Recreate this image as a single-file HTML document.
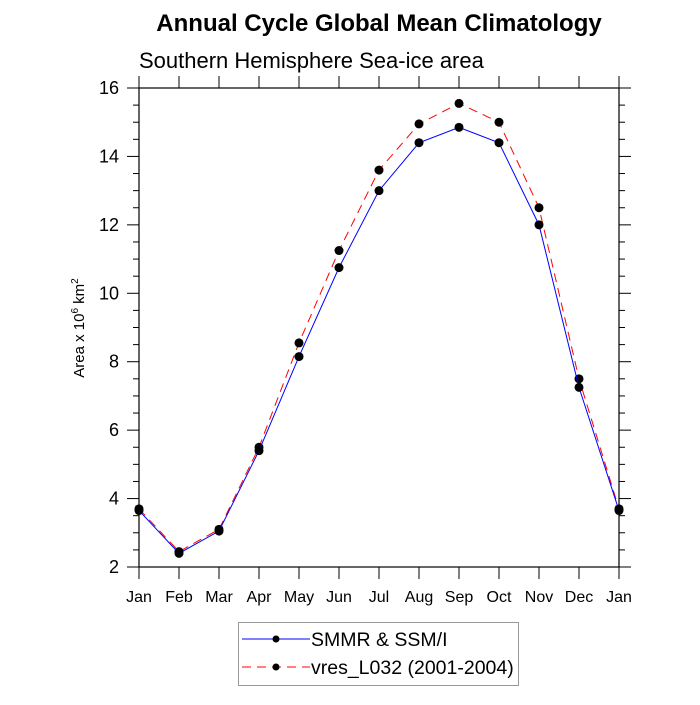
<!DOCTYPE html>
<html><head><meta charset="utf-8"><style>
body{margin:0;background:#fff}
svg text{font-family:"Liberation Sans",sans-serif}
</style></head><body>
<svg width="700" height="700" viewBox="0 0 700 700" xmlns="http://www.w3.org/2000/svg">
<rect width="700" height="700" fill="#fff"/>
<text x="379" y="31" font-size="24" font-weight="bold" text-anchor="middle">Annual Cycle Global Mean Climatology</text>
<text x="139" y="68" font-size="22">Southern Hemisphere Sea-ice area</text>
<g id="axes"></g>
<g id="series"></g>
<text transform="translate(84,328) rotate(-90)" font-size="15" text-anchor="middle">Area x 10<tspan font-size="10" dy="-6">6</tspan><tspan dy="6"> km</tspan><tspan font-size="10" dy="-6">2</tspan></text>
<g>
<rect x="238.5" y="622.5" width="280" height="63" fill="#fff" stroke="#999" stroke-width="1"/>
<line x1="242" y1="639" x2="310" y2="639" stroke="#00f" stroke-width="1"/>
<circle cx="276" cy="639" r="3.5" fill="#000"/>
<text x="311" y="646" font-size="19.5">SMMR &amp; SSM/I</text>
<line x1="242" y1="667" x2="310" y2="667" stroke="#f00" stroke-width="1" stroke-dasharray="9,6"/>
<circle cx="276" cy="667" r="3.5" fill="#000"/>
<text x="311" y="674" font-size="19.5">vres_L032 (2001-2004)</text>
</g>
</svg>
<script>
const months=["Jan","Feb","Mar","Apr","May","Jun","Jul","Aug","Sep","Oct","Nov","Dec","Jan"];
const smmr=[3.65,2.4,3.05,5.4,8.15,10.75,13.0,14.4,14.85,14.4,12.0,7.25,3.65];
const vres=[3.7,2.45,3.1,5.5,8.55,11.25,13.6,14.95,15.55,15.0,12.5,7.5,3.7];
const yTicks=[2,4,6,8,10,12,14,16];
const NS="http://www.w3.org/2000/svg";
const X0=139,X1=619,Y0=567,Y1=88,YMIN=2,YMAX=16;
function xs(i){return X0+(X1-X0)*i/(months.length-1);}
function ys(v){return Y0-(Y0-Y1)*(v-YMIN)/(YMAX-YMIN);}
function mk(tag,attrs,parent){const e=document.createElementNS(NS,tag);for(const k in attrs)e.setAttribute(k,attrs[k]);parent.appendChild(e);return e;}
const ax=document.getElementById('axes');
const box=mk('rect',{x:X0,y:Y1,width:X1-X0,height:Y0-Y1,fill:'none',stroke:'#000','stroke-width':1.2},ax);


months.forEach((m,i)=>{
  const x=xs(i);
  mk('line',{x1:x,y1:Y0,x2:x,y2:Y0+12,stroke:'#000'},ax);
  mk('line',{x1:x,y1:Y1,x2:x,y2:Y1-12,stroke:'#000'},ax);
  const t=mk('text',{x:x,y:Y0+35,'font-size':16,'text-anchor':'middle'},ax);
  t.textContent=m;
  
  
});
for(let v=YMIN;v<=YMAX+0.001;v+=0.5){
  const y=ys(v);const major=Math.abs(v-Math.round(v/2)*2)<0.01;
  const L=major?12:6;
  mk('line',{x1:X0,y1:y,x2:X0-L,y2:y,stroke:'#000'},ax);
  mk('line',{x1:X1,y1:y,x2:X1+L,y2:y,stroke:'#000'},ax);
}
yTicks.forEach(v=>{
  const t=mk('text',{x:X0-20,y:ys(v)+6,'font-size':18,'text-anchor':'end'},ax);
  t.textContent=v;
  
  
});
const sg=document.getElementById('series');
function draw(vals,color,dash,name){
  const g=mk('g',{},sg);
  
  
  const pts=vals.map((v,i)=>xs(i)+','+ys(v)).join(' ');
  const attrs={points:pts,fill:'none',stroke:color,'stroke-width':1};
  if(dash)attrs['stroke-dasharray']=dash;
  mk('polyline',attrs,g);
  vals.forEach((v,i)=>{
    const c=mk('circle',{cx:xs(i),cy:ys(v),r:4.5,fill:'#000'},g);
    
    
  });
}
draw(vres,'#f00','9,6','series-vres');
draw(smmr,'#00f',null,'series-smmr');
</script>
</body></html>
